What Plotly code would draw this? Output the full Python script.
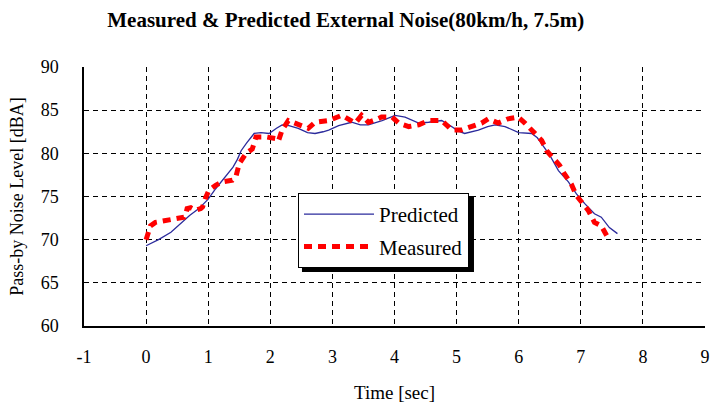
import plotly.graph_objects as go

# Predicted noise level
pred_t = [0, 0.2, 0.4, 0.55, 0.7, 0.85, 1.0, 1.12, 1.23, 1.32, 1.4, 1.47, 1.53, 1.62, 1.74, 1.85,
          1.98, 2.1, 2.19, 2.3, 2.45, 2.6, 2.72, 2.85, 2.94, 3.1, 3.31, 3.45, 3.58, 3.8, 4.01, 4.17,
          4.3, 4.39, 4.55, 4.76, 4.92, 5.02, 5.13, 5.35, 5.5, 5.62, 5.78, 5.9, 6.0, 6.21, 6.3, 6.37,
          6.5, 6.64, 6.8, 6.93, 7.06, 7.22, 7.33, 7.46, 7.59]
pred_db = [69.3, 70.0, 70.85, 71.8, 72.8, 73.6, 74.7, 75.9, 76.9, 77.6, 78.4, 79.3, 80.3, 81.2, 82.3, 82.4,
           82.3, 82.9, 83.3, 83.2, 82.9, 82.4, 82.3, 82.5, 82.7, 83.2, 83.6, 83.3, 83.3, 83.8, 84.4, 84.2,
           83.8, 83.5, 83.6, 83.8, 83.1, 82.6, 82.3, 82.7, 83.1, 83.3, 83.1, 82.7, 82.4, 82.3, 81.8, 81.1,
           79.8, 78.0, 76.7, 75.3, 74.2, 73.0, 72.6, 71.4, 70.7]

# Measured noise level
meas_t = [0.0, 0.02, 0.07, 0.15, 0.31, 0.45, 0.53, 0.61, 0.64, 0.66, 0.72, 0.80, 0.88, 0.91, 0.96, 1.01,
          1.12, 1.23, 1.39, 1.45, 1.50, 1.55, 1.61, 1.71, 1.77, 1.93, 2.09, 2.13, 2.19, 2.29, 2.45, 2.61,
          2.72, 2.94, 3.15, 3.25, 3.37, 3.47, 3.58, 3.70, 3.79, 3.96, 4.07, 4.23, 4.39, 4.55, 4.76, 4.85,
          4.92, 5.08, 5.24, 5.40, 5.51, 5.67, 5.83, 5.99, 6.10, 6.15, 6.26, 6.37, 6.45, 6.53, 6.66, 6.72,
          6.80, 6.85, 6.93, 7.04, 7.12, 7.22, 7.33, 7.43]
meas_db = [70.0, 70.6, 71.6, 72.0, 72.2, 72.3, 72.4, 72.6, 73.0, 73.6, 73.7, 73.4, 73.6, 73.8, 74.9, 75.7,
           76.3, 76.7, 76.9, 77.4, 78.8, 79.3, 80.0, 80.5, 81.9, 81.9, 81.7, 81.4, 82.7, 83.8, 83.3, 82.9,
           83.6, 83.8, 84.4, 84.0, 83.5, 84.4, 83.6, 83.9, 84.2, 84.2, 83.5, 83.1, 83.3, 83.8, 83.8, 83.2,
           82.7, 82.7, 83.1, 83.5, 84.0, 83.5, 84.0, 84.2, 83.5, 83.1, 82.3, 81.5, 80.3, 79.6, 78.6, 77.8,
           76.9, 76.4, 75.1, 74.0, 73.4, 72.0, 71.6, 70.3]

x_ticks = [-1, 0, 1, 2, 3, 4, 5, 6, 7, 8, 9]
y_ticks = [60, 65, 70, 75, 80, 85, 90]

FONT = "Liberation Serif, Times New Roman, serif"

fig = go.Figure()
fig.add_trace(go.Scatter(x=pred_t, y=pred_db, mode="lines", name="Predicted", legendgroup="p",
                         line=dict(color="#2b2b9c", width=1.3)))
fig.add_trace(go.Scatter(x=meas_t, y=meas_db, mode="lines", name="Measured", legendgroup="m",
                         line=dict(color="#ff0000", width=5, dash="8px,6px")))

# legend shadow (plot width 621 px)
fig.add_shape(type="rect", xref="paper", yref="paper",
              x0=0.3510, x1=0.6280, y0=0.2085, y1=0.502,
              fillcolor="black", line=dict(width=0), layer="above")

fig.update_layout(
    width=710, height=407,
    margin=dict(l=84, r=5, t=67, b=81),
    paper_bgcolor="white", plot_bgcolor="white",
    font=dict(family=FONT, color="black", size=18),
    title=dict(text="<b>Measured & Predicted External Noise(80km/h, 7.5m)</b>",
               x=0.487, xanchor="center", y=0.951, yanchor="middle",
               font=dict(family=FONT, size=21, color="black")),
    showlegend=True,
    legend=dict(x=0.3446, y=0.5135, xanchor="left", yanchor="top",
                bgcolor="white", bordercolor="black", borderwidth=1,
                font=dict(family=FONT, size=21, color="black"),
                itemwidth=70, traceorder="grouped", tracegroupgap=2),
    xaxis=dict(range=[-1, 9], tickvals=x_ticks, ticktext=[str(v) for v in x_ticks],
               showgrid=True, gridcolor="black", griddash="5px,4px", gridwidth=1,
               showline=True, linecolor="black", linewidth=1.5, zeroline=False,
               ticks="", ticklabelstandoff=14, automargin=False, ticklabeloverflow="allow",
               tickfont=dict(size=18),
               title=dict(text="Time [sec]", standoff=19, font=dict(size=19))),
    yaxis=dict(range=[60, 90], tickvals=y_ticks, ticktext=[str(v) for v in y_ticks],
               showgrid=True, gridcolor="black", griddash="5px,4px", gridwidth=1,
               showline=True, linecolor="black", linewidth=1.5, zeroline=False,
               ticks="", ticklabelstandoff=20, automargin=False,
               tickfont=dict(size=18),
               title=dict(text="Pass-by Noise Level [dBA]", standoff=12, font=dict(size=18))),
)

fig.write_html("out.html", config={"displayModeBar": False},
               post_script="document.body.style.margin='0';")
